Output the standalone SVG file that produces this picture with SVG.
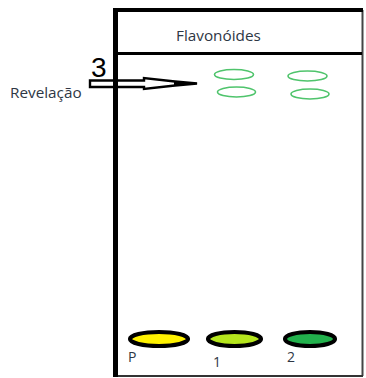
<svg xmlns="http://www.w3.org/2000/svg" width="366" height="378" viewBox="0 0 366 378">
<style>
.t{font-family:"Open Sans","Liberation Sans",sans-serif;fill:#2e3744}
.g{fill:none;stroke:#4fc46c;stroke-width:1.6}
.s{stroke:#000;stroke-width:4.2}
</style>
<rect width="366" height="378" fill="#fff"/>
<g id="plate">
<line x1="362.5" y1="10" x2="362.5" y2="376" stroke="#444" stroke-width="2"/>
<line x1="115" y1="376" x2="363" y2="376" stroke="#333" stroke-width="2"/>
<line x1="115" y1="10" x2="363" y2="10" stroke="#000" stroke-width="4"/>
<line x1="118" y1="53.5" x2="362" y2="53.5" stroke="#000" stroke-width="3"/>
</g>
<g id="title"><text class="t" x="176" y="41" font-size="15.3">Flavonóides</text></g>
<g id="connectors">
<polygon points="90,80.5 144,80.5 144,78 175,81.5 197,83.5 175,85.5 144,89 144,87 90,87" fill="#fff" stroke="#000" stroke-width="2.4" stroke-linejoin="miter"/>
<polygon points="174,81.5 198,83 174,85.5" fill="#000"/>
</g>
<line x1="115.5" y1="8" x2="115.5" y2="377" stroke="#000" stroke-width="5"/>
<g id="label3"><text x="91" y="77" font-family="Liberation Sans,sans-serif" font-size="28" fill="#000">3</text></g>
<g id="revelacao"><text class="t" x="10" y="98" font-size="15.3">Revelação</text></g>
<g id="bands">
<ellipse class="g" cx="234" cy="74.5" rx="19.5" ry="5"/>
<ellipse class="g" cx="236.5" cy="92" rx="19" ry="5"/>
<ellipse class="g" cx="307.5" cy="76" rx="19.5" ry="5"/>
<ellipse class="g" cx="310" cy="94" rx="19" ry="5"/>
</g>
<g id="spotP"><ellipse class="s" cx="159" cy="339" rx="29" ry="7" fill="#fff200"/><text class="t" x="128" y="362" font-size="14">P</text></g>
<g id="spot1"><ellipse class="s" cx="234.5" cy="339" rx="26.5" ry="7" fill="#b5e61d"/><text class="t" x="213" y="367" font-size="14">1</text></g>
<g id="spot2"><ellipse class="s" cx="310" cy="339" rx="25" ry="7" fill="#22b14c"/><text class="t" x="287" y="362" font-size="14">2</text></g>
</svg>
